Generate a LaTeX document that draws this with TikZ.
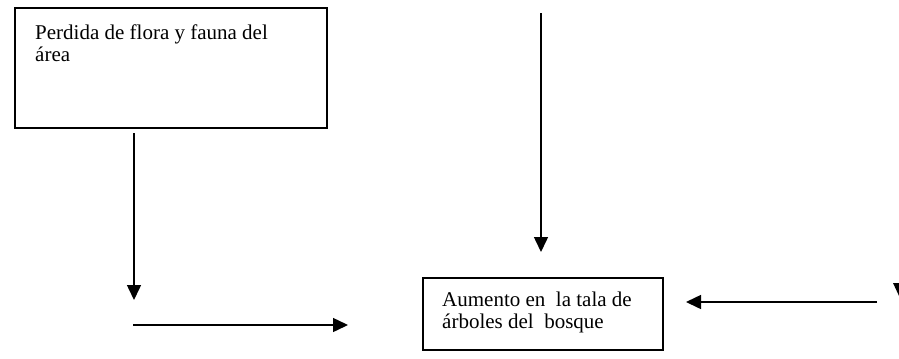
\documentclass[tikz,border=0pt]{standalone}
\usepackage{fontspec}
\setmainfont{Liberation Serif}
\usetikzlibrary{arrows.meta}
\begin{document}
\begin{tikzpicture}[x=1bp,y=-1bp,
  boxst/.style={draw=black,line width=1.5bp,rectangle,inner sep=0pt,anchor=north west},
  txt/.style={inner sep=0pt,anchor=base west,align=left,font=\fontsize{21bp}{21.5bp}\selectfont},
  arr/.style={line width=1.5bp,-{Triangle[length=15bp,width=14bp]}}]
\useasboundingbox (0,0) rectangle (899,358);
\node[boxst,minimum width=312bp,minimum height=120bp] (b1) at (14,7) {};
\node[txt] (t1) at (35,61) {Perdida de flora y fauna del\\área};
\node[boxst,minimum width=240bp,minimum height=72bp] (b2) at (422,277) {};
\node[txt] (t2) at (442,328) {Aumento en\ \ la tala de\\árboles del\ \ bosque};
\coordinate (a1s) at (134,133);
\coordinate (a1e) at (134,300);
\coordinate (a2s) at (541,13);
\coordinate (a2e) at (541,252);
\coordinate (a3s) at (133,325);
\coordinate (a3e) at (348,325);
\coordinate (a4s) at (877,302);
\coordinate (a4e) at (686,302);
\draw[arr] (a1s) -- (a1e);
\draw[arr] (a2s) -- (a2e);
\draw[arr] (a3s) -- (a3e);
\draw[arr] (a4s) -- (a4e);
\begin{scope}
\clip (0,0) rectangle (899,358);
\fill (893,283) -- (907,283) -- (900,298) -- cycle;
\end{scope}
\end{tikzpicture}
\end{document}
